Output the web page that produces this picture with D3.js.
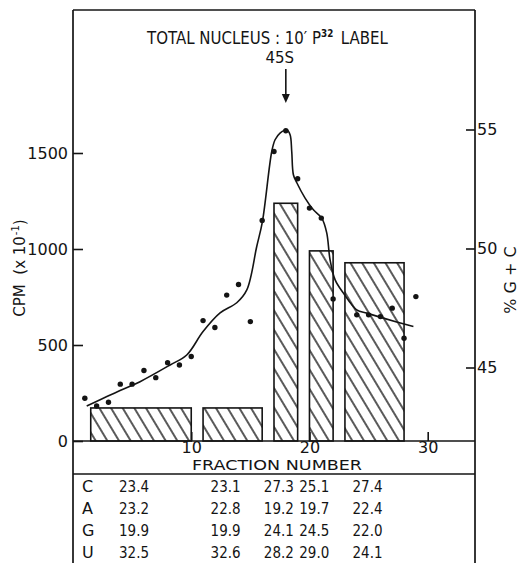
<!DOCTYPE html>
<html>
<head>
<meta charset="utf-8">
<script src="https://cdn.jsdelivr.net/npm/d3@7"></script>
<style>
  body { margin: 0; background: #fff; }
  svg { display: block; }
  text { font-family: "DejaVu Sans", sans-serif; fill: #141414; }
</style>
</head>
<body>
<svg id="chart" width="521" height="563"></svg>
<script>
// Radioactivity per fraction (CPM x 10^-1)
const fractions = [1, 2, 3, 4, 5, 6, 7, 8, 9, 10, 11, 12, 13, 14, 15, 16, 17, 18, 19, 20, 21, 22, 24, 25, 26, 27, 28, 29];
const cpm = [223, 182, 202, 296, 296, 367, 330, 408, 396, 440, 627, 591, 760, 815, 622, 1149, 1508, 1616, 1366, 1213, 1161, 740, 657, 657, 648, 692, 535, 752];

// Hand-drawn smooth curve through the profile
const curveFraction = [1.16, 3.98, 5.67, 8.21, 9.62, 11.0, 12.44, 13.85, 14.7, 15.54, 16.02, 16.81, 17.09, 17.51, 18.08, 18.36, 18.5, 18.64, 18.93, 19.63, 20.33, 21.04, 21.46, 21.74, 22.17, 22.87, 24.0, 24.85, 26.25, 28.79];
const curveCpm = [182, 263, 309, 396, 448, 570, 667, 720, 787, 1013, 1143, 1508, 1569, 1604, 1621, 1595, 1508, 1387, 1345, 1265, 1204, 1161, 1084, 944, 839, 770, 683, 666, 640, 596];

// Pooled fractions and their base composition
const poolStart = [1.5, 11, 17, 20, 23];
const poolEnd = [10, 16, 19, 22, 28];
const poolGC = [43.3, 43.3, 51.9, 49.9, 49.4];
const bases = ["C", "A", "G", "U"];
const baseC = [23.4, 23.1, 27.3, 25.1, 27.4];
const baseA = [23.2, 22.8, 19.2, 19.7, 22.4];
const baseG = [19.9, 19.9, 24.1, 24.5, 22.0];
const baseU = [32.5, 32.6, 28.2, 29.0, 24.1];

const cpmTicks = [0, 500, 1000, 1500];
const gcTicks = [45, 50, 55];
const fractionTicks = [10, 20, 30];

const svg = d3.select("#chart");
const ink = "#141414";

const edgeL = 73, edgeR = 475, edgeT = 10, baseY = 441, tableY = 474, edgeB = 563;

const x = d3.scaleLinear().domain([0, 34]).range([edgeL, edgeR]);
const yL = d3.scaleLinear().domain([0, 1500]).range([baseY, 153]);
const yR = d3.scaleLinear().domain([45, 55]).range([367.5, 129.5]);

// Diagonal hatching for the composition bars
const defs = svg.append("defs");
const pat = defs.append("pattern")
  .attr("id", "hatch")
  .attr("patternUnits", "userSpaceOnUse")
  .attr("width", 10).attr("height", 10)
  .attr("patternTransform", "rotate(-31)");
pat.append("rect").attr("width", 10).attr("height", 10).attr("fill", "#fff");
pat.append("line")
  .attr("x1", 5).attr("y1", -1).attr("x2", 5).attr("y2", 11)
  .attr("stroke", ink).attr("stroke-width", 1.4);

const pools = poolStart.map((s, i) => ({ s, e: poolEnd[i], gc: poolGC[i] }));

svg.append("g").selectAll("rect")
  .data(pools)
  .join("rect")
  .attr("x", d => x(d.s))
  .attr("width", d => x(d.e) - x(d.s))
  .attr("y", d => yR(d.gc))
  .attr("height", d => baseY - yR(d.gc))
  .attr("fill", "url(#hatch)")
  .attr("stroke", ink)
  .attr("stroke-width", 1.6);

// Frame and rules
const frame = svg.append("g").attr("stroke", ink).attr("stroke-width", 1.7).attr("fill", "none");
frame.append("line").attr("x1", edgeL).attr("x2", edgeL).attr("y1", edgeT).attr("y2", edgeB);
frame.append("line").attr("x1", edgeR).attr("x2", edgeR).attr("y1", edgeT).attr("y2", edgeB);
frame.append("line").attr("x1", edgeL).attr("x2", edgeR).attr("y1", edgeT).attr("y2", edgeT);
frame.append("line").attr("x1", edgeL).attr("x2", edgeR).attr("y1", baseY).attr("y2", baseY);
frame.append("line").attr("x1", edgeL).attr("x2", edgeR).attr("y1", tableY).attr("y2", tableY);

// Axes
const styleAxis = g => {
  g.select(".domain").remove();
  g.selectAll(".tick line").attr("stroke", ink).attr("stroke-width", 1.6);
  g.selectAll(".tick text").attr("fill", ink).style("font-family", '"DejaVu Sans", sans-serif');
};

svg.append("g")
  .attr("transform", `translate(${edgeL},0)`)
  .call(d3.axisLeft(yL).tickValues(cpmTicks).tickFormat(d3.format("d"))
    .tickSizeInner(-10).tickSizeOuter(0).tickPadding(5))
  .attr("font-size", 16)
  .call(styleAxis);

svg.append("g")
  .attr("transform", `translate(${edgeR},0)`)
  .call(d3.axisRight(yR).tickValues(gcTicks).tickFormat(d3.format("d"))
    .tickSizeInner(-9).tickSizeOuter(0).tickPadding(2))
  .attr("font-size", 16)
  .call(styleAxis);

svg.append("g")
  .attr("transform", `translate(0,${baseY})`)
  .call(d3.axisBottom(x).tickValues(fractionTicks).tickFormat(d3.format("d"))
    .tickSizeInner(-9).tickSizeOuter(0).tickPadding(1))
  .attr("font-size", 16)
  .call(styleAxis);

// Radioactivity profile
const line = d3.line()
  .x((d, i) => x(curveFraction[i]))
  .y(d => yL(d))
  .curve(d3.curveCatmullRom.alpha(0.5));

svg.append("path")
  .attr("d", line(curveCpm))
  .attr("fill", "none")
  .attr("stroke", ink)
  .attr("stroke-width", 1.6);

svg.append("g").selectAll("circle")
  .data(fractions)
  .join("circle")
  .attr("cx", d => x(d))
  .attr("cy", (d, i) => yL(cpm[i]))
  .attr("r", 2.7)
  .attr("fill", ink);

// Title: a single line, condensed horizontally to fit the lettering width
const titleG = svg.append("g").attr("transform", "translate(147,44)");
const titleText = titleG.append("text").attr("x", 0).attr("y", 0).attr("font-size", 17);
titleText.append("tspan").text("TOTAL NUCLEUS : 10\u2032 P");
titleText.append("tspan").attr("font-size", 10).attr("font-weight", "bold").attr("dy", -7).text("32");
titleText.append("tspan").attr("dy", 7).text("\u2002LABEL");
const titleWidth = titleText.node().getComputedTextLength();
titleG.attr("transform", `translate(147,44) scale(${241 / titleWidth},1)`);

// 45S marker
svg.append("text").attr("x", x(18) - 6).attr("y", 63).attr("text-anchor", "middle").attr("font-size", 15).text("45S");
svg.append("line").attr("x1", x(18)).attr("x2", x(18)).attr("y1", 69).attr("y2", 96)
  .attr("stroke", ink).attr("stroke-width", 1.6);
svg.append("path")
  .attr("d", `M${x(18) - 4},94 L${x(18) + 4},94 L${x(18)},103 Z`)
  .attr("fill", ink);

// Axis titles
svg.append("text")
  .attr("transform", "translate(25,268) rotate(-90)")
  .attr("text-anchor", "middle").attr("font-size", 15)
  .html('CPM&#160;&#160;(x 10<tspan font-size="10" dx="1" dy="-6">-1</tspan><tspan dy="6">)</tspan>');

svg.append("text")
  .attr("transform", "translate(516,280) rotate(-90)")
  .attr("text-anchor", "middle").attr("font-size", 16)
  .text("% G + C");

svg.append("text").attr("x", 277).attr("y", 470)
  .attr("text-anchor", "middle").attr("font-size", 14)
  .attr("textLength", 170).attr("lengthAdjust", "spacingAndGlyphs")
  .text("FRACTION NUMBER");

// Base composition table
const rows = [baseC, baseA, baseG, baseU];
const rowBase = [492, 514, 536, 558];
const fmt = d3.format(".1f");
const table = svg.append("g").attr("font-size", 16);
rows.forEach((vals, r) => {
  table.append("text").attr("x", 82).attr("y", rowBase[r]).text(bases[r]);
  table.selectAll(null)
    .data(vals)
    .join("text")
    .attr("x", (d, i) => (x(poolStart[i]) + x(poolEnd[i])) / 2 - 7 - 15)
    .attr("y", rowBase[r])
    .attr("textLength", 30).attr("lengthAdjust", "spacingAndGlyphs")
    .text(d => fmt(d));
});
</script>
</body>
</html>
